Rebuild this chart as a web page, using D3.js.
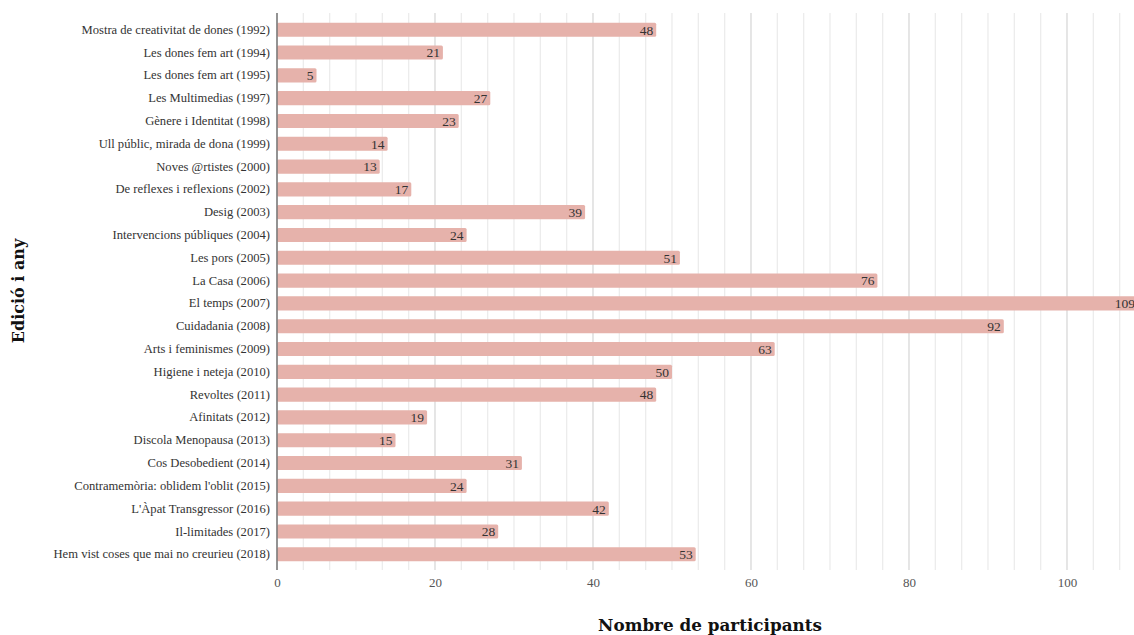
<!DOCTYPE html>
<html>
<head>
<meta charset="utf-8">
<script src="https://cdn.jsdelivr.net/npm/d3@7"></script>
<style>
  html, body { margin: 0; padding: 0; background: #fff; overflow: hidden; }
  svg { display: block; }
</style>
</head>
<body>
<svg id="chart" width="1134" height="635"></svg>
<script>
const categories = [
  "Mostra de creativitat de dones (1992)",
  "Les dones fem art (1994)",
  "Les dones fem art (1995)",
  "Les Multimedias (1997)",
  "Gènere i Identitat (1998)",
  "Ull públic, mirada de dona (1999)",
  "Noves @rtistes (2000)",
  "De reflexes i reflexions (2002)",
  "Desig (2003)",
  "Intervencions públiques (2004)",
  "Les pors (2005)",
  "La Casa (2006)",
  "El temps (2007)",
  "Cuidadania (2008)",
  "Arts i feminismes (2009)",
  "Higiene i neteja (2010)",
  "Revoltes (2011)",
  "Afinitats (2012)",
  "Discola Menopausa (2013)",
  "Cos Desobedient (2014)",
  "Contramemòria: oblidem l'oblit (2015)",
  "L'Àpat Transgressor (2016)",
  "Il-limitades (2017)",
  "Hem vist coses que mai no creurieu (2018)"
];
const participants = [48, 21, 5, 27, 23, 14, 13, 17, 39, 24, 51, 76, 109, 92, 63, 50, 48, 19, 15, 31, 24, 42, 28, 53];
const xTicks = [0, 20, 40, 60, 80, 100];
const xTitle = "Nombre de participants";
const yTitle = "Edició i any";

const svg = d3.select("#chart");
const serif = "'Liberation Serif', 'DejaVu Serif', serif";
const titleFont = "'DejaVu Serif', 'Liberation Serif', serif";

const x = d3.scaleLinear().domain([0, 110]).range([277, 1146]);
const y = d3.scaleBand().domain(categories).range([14, 570]).paddingInner(0.38).paddingOuter(0.38);

// gridlines (minor every 20/6, major every 20)
const minor = d3.range(0, 110.01, 20 / 6);
svg.append("g").selectAll("line").data(minor).join("line")
  .attr("x1", d => x(d)).attr("x2", d => x(d))
  .attr("y1", 13).attr("y2", 570)
  .attr("stroke", (d, i) => (i % 6 === 0) ? "#d8d8d8" : "#ececec")
  .attr("stroke-width", 1.3);

// bars
svg.append("g").selectAll("rect").data(participants).join("rect")
  .attr("x", x(0))
  .attr("y", (d, i) => y(categories[i]))
  .attr("width", d => x(d) - x(0))
  .attr("height", y.bandwidth())
  .attr("fill", "#e6b2ab")
  .attr("rx", 1.5);

// value labels
svg.append("g").selectAll("text").data(participants).join("text")
  .attr("x", d => x(d) - 3)
  .attr("y", (d, i) => y(categories[i]) + y.bandwidth() / 2)
  .attr("dy", "0.36em")
  .attr("text-anchor", "end")
  .attr("font-family", serif)
  .attr("font-size", 13.5)
  .attr("fill", "#333")
  .text(d => d);

// y axis
const yAxis = d3.axisLeft(y).tickSize(0).tickPadding(7);
const gy = svg.append("g").attr("transform", `translate(${x(0)},0)`).call(yAxis);
gy.select(".domain").remove();
gy.selectAll("text").attr("font-family", serif).attr("font-size", 12.6).attr("fill", "#333");
svg.append("line").attr("x1", x(0)).attr("x2", x(0)).attr("y1", 13).attr("y2", 570)
  .attr("stroke", "#777").attr("stroke-width", 1.5);

// x axis
const xAxis = d3.axisBottom(x).tickValues(xTicks).tickSize(0).tickPadding(8);
const gx = svg.append("g").attr("transform", `translate(0,570)`).call(xAxis);
gx.select(".domain").remove();
gx.selectAll("text").attr("font-family", serif).attr("font-size", 13).attr("fill", "#555");

// titles
svg.append("text")
  .attr("x", 710).attr("y", 631)
  .attr("text-anchor", "middle")
  .attr("font-family", titleFont).attr("font-weight", "bold").attr("font-size", 16.8)
  .attr("fill", "#111")
  .text(xTitle);

svg.append("text")
  .attr("transform", "translate(24,291) rotate(-90)")
  .attr("text-anchor", "middle")
  .attr("font-family", titleFont).attr("font-weight", "bold").attr("font-size", 16)
  .attr("fill", "#111")
  .text(yTitle);
</script>
</body>
</html>
